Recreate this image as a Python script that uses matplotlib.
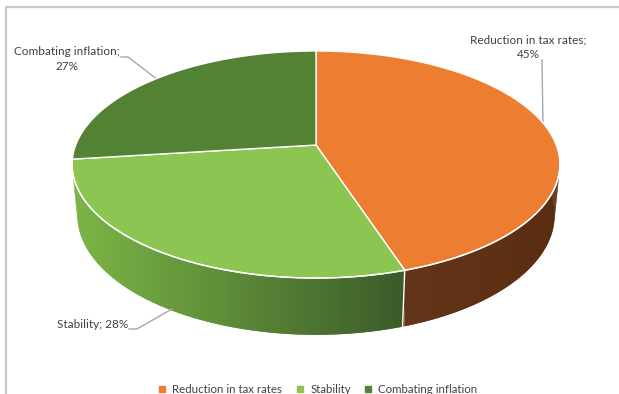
import numpy as np
import matplotlib.pyplot as plt
from matplotlib.patches import Polygon
from matplotlib.lines import Line2D
from matplotlib.colors import to_rgb

labels = ["Reduction in tax rates", "Stability", "Combating inflation"]
shares = [45, 28, 27]
top_colors = ["#ED7D31", "#8DC553", "#548235"]
side_from = ["#643518", "#7DB646", "#7AB344"]
side_to = ["#5A2D12", "#3B5B2A", "#7AB344"]

# simple perspective view of a flat disc
CX, CY = 316, 145
FOCAL = 1242
DIST = 5.17
ELEV = np.radians(27.3)
THICK = 0.239


def project(t, h):
    X, Z = np.cos(t), np.sin(t)
    v = Z * np.sin(ELEV) + h * np.cos(ELEV)
    w = DIST + Z * np.cos(ELEV) - h * np.sin(ELEV)
    return CX + FOCAL * X / w, CY - FOCAL * v / w


fig = plt.figure(figsize=(6.19, 3.94), dpi=100)
ax = fig.add_axes([0, 0, 1, 1])
ax.set_xlim(0, 619)
ax.set_ylim(394, 0)
ax.axis("off")

# slice angles, clockwise from 12 o'clock
bounds = []
start = 90.0
for s in shares:
    end = start - 360 * s / 100
    bounds.append((start, end))
    start = end

# side walls of the front half
for i, (a0, a1) in enumerate(bounds):
    lo, hi = max(a1, -181), min(a0, 1)
    if lo >= hi:
        continue
    ts = np.radians(np.linspace(hi, lo, 200))
    xt, yt = project(ts, 0)
    xb, yb = project(ts, -THICK)
    c0, c1 = np.array(to_rgb(side_from[i])), np.array(to_rgb(side_to[i]))

    # quads underneath fill the tangent strip at the outer ends
    for k in range(len(ts) - 1):
        col = c0 + (c1 - c0) * (xt[k] - xt.min()) / max(xt.max() - xt.min(), 1)
        ax.add_patch(Polygon([(xt[k], yt[k]), (xt[k + 1], yt[k + 1]),
                              (xb[k + 1], yb[k + 1]), (xb[k], yb[k])],
                             closed=True, fc=col, ec="none", lw=0,
                             zorder=0.5))

    # smooth gradient on top, clipped to the wall outline
    pts = np.column_stack([np.r_[xt, xb[::-1]], np.r_[yt, yb[::-1]]])
    wall = Polygon(pts, closed=True, fc="none", ec="none")
    ax.add_patch(wall)
    f = np.linspace(0, 1, 256)
    img = (c0[None, :] + (c1 - c0)[None, :] * f[:, None])[None, :, :]
    im = ax.imshow(img, extent=(xt.min(), xt.max(),
                                pts[:, 1].max() + 1, pts[:, 1].min() - 1),
                   aspect="auto", interpolation="bilinear", zorder=1)
    im.set_clip_path(wall)

    # white seam at the slice boundary
    if -170 < a1 < 0:
        x0, y0 = project(np.radians(a1), 0)
        x1, y1 = project(np.radians(a1), -THICK)
        ax.plot([x0, x1], [y0, y1], color="white", lw=1.0, zorder=2)

ax.set_xlim(0, 619)
ax.set_ylim(394, 0)

# top wedges
for i, (a0, a1) in enumerate(bounds):
    ts = np.radians(np.linspace(a0, a1, 200))
    xs, ys = project(ts, 0)
    pts = [(CX, CY)] + list(zip(xs, ys))
    ax.add_patch(Polygon(pts, closed=True, fc=top_colors[i], ec="white",
                         lw=1.0, zorder=3))

# front rim highlight
ts = np.radians(np.linspace(-8, -172, 200))
xs, ys = project(ts, 0)
ax.plot(xs, ys, color="white", lw=1.0, zorder=4)

# data labels with leader lines
txt = dict(color="#404040", fontsize=8.5, family="Lato", ha="center", va="center")
ax.text(67, 59, labels[2] + ";\n" + str(shares[2]) + "%", linespacing=1.35, **txt)
ax.text(528, 47, labels[0] + ";\n" + str(shares[0]) + "%", linespacing=1.35, **txt)
ax.text(93, 324, labels[1] + "; " + str(shares[1]) + "%", **txt)

lead = dict(color="#A6A6A6", lw=1.0)
ax.plot([121, 128, 158], [57, 57, 80], **lead)
ax.plot([542, 543], [60, 127], **lead)
ax.plot([129, 137, 172], [329, 329, 309], **lead)

# chart frame (partly cropped)
ax.plot([6, 6, 619], [394, 7, 7], color="#C8C8C8", lw=1.6)

handles = [Line2D([], [], marker="s", ls="", ms=4, color=c) for c in top_colors]
ax.legend(handles, labels, ncol=3, loc="center", bbox_to_anchor=(0.512, 0.012),
          frameon=False, handlelength=1.0, handletextpad=0.4, columnspacing=1.0,
          prop=dict(family="Lato", size=8.3), labelcolor="#404040")

fig.savefig("out.png", dpi=100)
